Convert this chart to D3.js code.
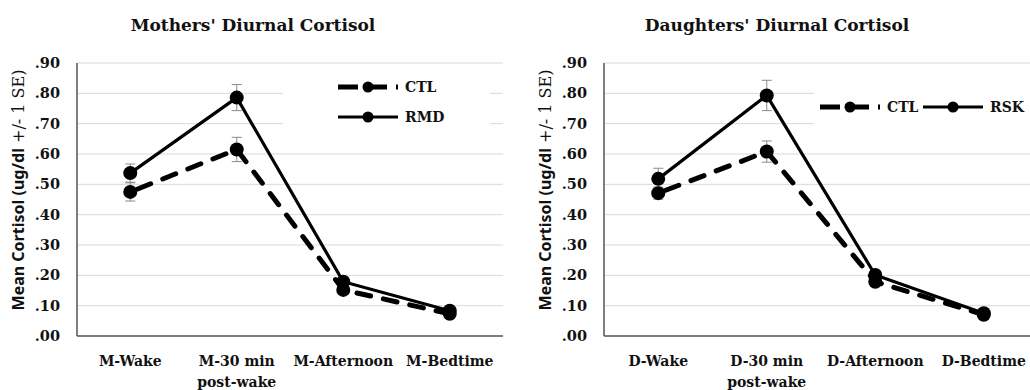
<!DOCTYPE html>
<html>
<head>
<meta charset="utf-8">
<script src="https://cdn.jsdelivr.net/npm/d3@7"></script>
<style>
  body { margin: 0; background: #fff; }
  svg { display: block; }
  text { font-family: 'DejaVu Serif', serif; font-weight: bold; fill: #111; }
</style>
</head>
<body>
<svg id="chart" width="1030" height="390"></svg>
<script>
const yTicks = [0, 0.1, 0.2, 0.3, 0.4, 0.5, 0.6, 0.7, 0.8, 0.9]

const momCats = ['M-Wake', 'M-30 min|post-wake', 'M-Afternoon', 'M-Bedtime']
const momCtl = [0.475, 0.615, 0.152, 0.073]
const momCtlSE = [0.03, 0.04, 0.015, 0.01]
const momRmd = [0.537, 0.786, 0.179, 0.083]
const momRmdSE = [0.03, 0.043, 0.015, 0.01]

const dauCats = ['D-Wake', 'D-30 min|post-wake', 'D-Afternoon', 'D-Bedtime']
const dauCtl = [0.471, 0.608, 0.179, 0.07]
const dauCtlSE = [0.02, 0.035, 0.015, 0.01]
const dauRsk = [0.518, 0.793, 0.201, 0.075]
const dauRskSE = [0.035, 0.05, 0.015, 0.01]

const svg = d3.select('#chart')
const fmt = (d) => d3.format('.2f')(d).replace(/^0/, '')

function drawPanel(p) {
  const x = d3.scaleBand().domain(p.cats).range([p.left, p.right])
  const y = d3.scaleLinear().domain([0, 0.9]).range([336, 63])
  const g = svg.append('g')

  // title
  g.append('text')
    .attr('x', p.titleX).attr('y', 31)
    .attr('text-anchor', 'middle')
    .style('font-size', '17px')
    .text(p.title)

  // gridlines
  g.append('g')
    .selectAll('line')
    .data(yTicks.slice(1))
    .join('line')
    .attr('x1', p.left).attr('x2', p.right)
    .attr('y1', (d) => y(d)).attr('y2', (d) => y(d))
    .attr('stroke', '#d9d9d9').attr('stroke-width', 1)

  // y tick labels
  g.append('g')
    .selectAll('text')
    .data(yTicks)
    .join('text')
    .attr('x', p.left - 17).attr('y', (d) => y(d))
    .attr('dy', '0.35em')
    .attr('text-anchor', 'end')
    .style('font-size', '14.5px')
    .text(fmt)

  // axes lines
  g.append('line')
    .attr('x1', p.left).attr('x2', p.left)
    .attr('y1', y(0.9)).attr('y2', y(0))
    .attr('stroke', '#555').attr('stroke-width', 1.5)
  g.append('line')
    .attr('x1', p.left).attr('x2', p.right)
    .attr('y1', y(0)).attr('y2', y(0))
    .attr('stroke', '#555').attr('stroke-width', 1.5)

  // x labels
  const xl = g.append('g')
    .selectAll('text')
    .data(p.cats)
    .join('text')
    .attr('x', (d) => x(d) + x.bandwidth() / 2)
    .attr('y', 366)
    .attr('text-anchor', 'middle')
    .style('font-size', '14px')
  xl.selectAll('tspan')
    .data((d) => d.split('|'))
    .join('tspan')
    .attr('x', function () { return d3.select(this.parentNode).attr('x') })
    .attr('dy', (d, i) => (i ? 21 : 0))
    .text((d) => d)

  // y axis title
  const yt = g.append('text')
    .attr('transform', `translate(${p.left - 53},${190}) rotate(-90)`)
    .attr('text-anchor', 'middle')
    .style('font-size', '16px')
  yt.append('tspan').style('font-family', "'Noto Sans', sans-serif").text('Mean Cortisol (ug/dl')
  yt.append('tspan').style('font-weight', 'normal').text(' +/- 1 SE)')

  const cx = (i) => x(p.cats[i]) + x.bandwidth() / 2
  const line = d3.line().x((d, i) => cx(i)).y((d) => y(d))

  p.series.forEach((s) => {
    g.append('path')
      .datum(s.values)
      .attr('d', line)
      .attr('fill', 'none')
      .attr('stroke', '#000')
      .attr('stroke-width', s.dash ? 5 : 3.2)
      .attr('stroke-dasharray', s.dash ? '14 13' : null)
      .attr('stroke-dashoffset', s.dash ? -8 : 0)
      .attr('stroke-linecap', s.dash ? 'round' : 'butt')
  })

  // error bars (behind the markers)
  p.series.forEach((s) => {
    const eb = g.append('g').attr('stroke', '#8a8a8a').attr('stroke-width', 1)
    s.values.forEach((v, i) => {
      const lo = y(v - s.se[i]), hi = y(v + s.se[i])
      eb.append('line').attr('x1', cx(i)).attr('x2', cx(i)).attr('y1', lo).attr('y2', hi)
      eb.append('line').attr('x1', cx(i) - 5).attr('x2', cx(i) + 5).attr('y1', lo).attr('y2', lo)
      eb.append('line').attr('x1', cx(i) - 5).attr('x2', cx(i) + 5).attr('y1', hi).attr('y2', hi)
    })
  })

  p.series.forEach((s) => {
    g.append('g')
      .selectAll('circle')
      .data(s.values)
      .join('circle')
      .attr('cx', (d, i) => cx(i)).attr('cy', (d) => y(d))
      .attr('r', 7)
      .attr('fill', '#000')
  })

  // legend
  const lg = g.append('g')
  lg.append('rect')
    .attr('x', p.legend.box[0]).attr('y', p.legend.box[1])
    .attr('width', p.legend.box[2]).attr('height', p.legend.box[3])
    .attr('fill', '#fff')
  p.series.forEach((s, k) => {
    const [lx, ly] = p.legend.pos[k]
    lg.append('line')
      .attr('x1', lx).attr('x2', lx + 60).attr('y1', ly).attr('y2', ly)
      .attr('stroke', '#000')
      .attr('stroke-width', s.dash ? 5 : 3)
      .attr('stroke-dasharray', s.dash ? '20 9' : null)
    lg.append('circle').attr('cx', lx + 30).attr('cy', ly).attr('r', 5.5).attr('fill', '#000')
    lg.append('text')
      .attr('x', lx + 67).attr('y', ly).attr('dy', '0.35em')
      .style('font-size', '14px')
      .text(s.name)
  })
}

drawPanel({
  title: "Mothers' Diurnal Cortisol",
  titleX: 253,
  cats: momCats,
  left: 77, right: 503,
  series: [
    { name: 'CTL', values: momCtl, se: momCtlSE, dash: true },
    { name: 'RMD', values: momRmd, se: momRmdSE, dash: false }
  ],
  legend: { box: [283, 70, 207, 68], pos: [[338, 87], [338, 117]] }
})

drawPanel({
  title: "Daughters' Diurnal Cortisol",
  titleX: 777,
  cats: dauCats,
  left: 604, right: 1038,
  series: [
    { name: 'CTL', values: dauCtl, se: dauCtlSE, dash: true },
    { name: 'RSK', values: dauRsk, se: dauRskSE, dash: false }
  ],
  legend: { box: [814, 85, 216, 44], pos: [[820, 107], [923, 107]] }
})
</script>
</body>
</html>
